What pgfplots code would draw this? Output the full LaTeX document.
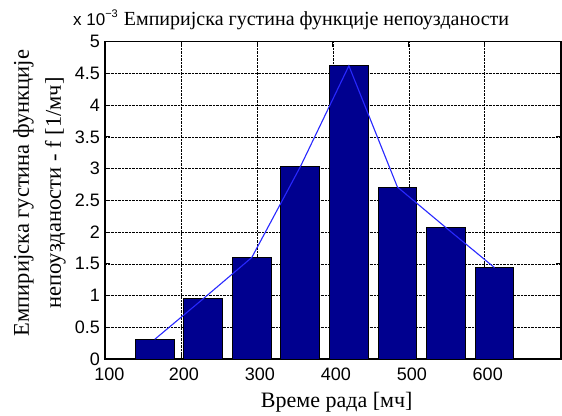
\documentclass[border=0pt]{standalone}
\usepackage{fontspec}
\setmainfont{Liberation Serif}
\newfontfamily\arial{Liberation Sans}
\usepackage{pgfplots}
\pgfplotsset{compat=1.18}
\definecolor{barblue}{RGB}{0,0,143}
\definecolor{lineblue}{RGB}{40,40,255}
\begin{document}
\begin{tikzpicture}
\begin{axis}[
  scale only axis,
  width=455.7pt, height=317.3pt,
  at={(0pt,0pt)}, anchor=south west,
  xmin=100, xmax=700, ymin=0, ymax=5,
  xtick={100,200,300,400,500,600},
  xticklabels={{\hspace*{3pt}100},200,300,400,500,600},
  ytick={0,0.5,1,1.5,2,2.5,3,3.5,4,4.5,5},
  yticklabels={0,0.5,1,1.5,2,2.5,3,3.5,4,4.5,5},
  /pgf/number format/assume math mode=true,
  ticklabel style={font=\arial\fontsize{18}{18}\selectfont, inner sep=1pt},
  xticklabel style={yshift=-8pt, xshift=3pt},
  yticklabel style={xshift=-4pt},
  tick align=inside,
  major tick length=5pt,
  tick style={black, line width=0.8pt},
  axis line style={black, line width=1.6pt},
  grid=major,
  major grid style={black, densely dotted, line width=0.6pt},
  clip=false,
]
\addplot[ybar, bar width=51.1, bar shift=0pt, fill=barblue, draw=black, line width=1pt]
  coordinates {(165.5,0.31) (229.4,0.95) (293.3,1.60) (357.2,3.03) (421.1,4.62) (485.0,2.71) (548.9,2.07) (612.8,1.44)};
\addplot[lineblue, line width=1.1pt, mark=none]
  coordinates {(165.5,0.31) (229.4,0.95) (293.3,1.60) (357.2,3.03) (421.1,4.62) (485.0,2.71) (548.9,2.07) (612.8,1.44)};
\end{axis}
\node[anchor=base] at (211.5pt,333pt) {\fontsize{20}{20}\selectfont Емпиријска густина функције непоузданости};
\node[anchor=base east, inner sep=0pt] at (13pt,333pt) {\arial\fontsize{17}{17}\selectfont x 10\raisebox{0.5em}{\fontsize{11}{11}\selectfont −3}};
\node[anchor=base, rotate=90, inner sep=0pt] at (-76pt,166pt) {\fontsize{22.5}{22.5}\selectfont Емпиријска густина функције};
\node[anchor=base, rotate=90, inner sep=0pt] at (-44pt,166pt) {\fontsize{22.5}{22.5}\selectfont непоузданости - f [1/мч]};
\node[anchor=base, inner sep=0pt] at (231.7pt,-48pt) {\fontsize{22}{22}\selectfont Време рада [мч]};
\pgfresetboundingbox
\path[use as bounding box] (-105pt,-56pt) rectangle (457pt,359pt);
\end{tikzpicture}
\end{document}
